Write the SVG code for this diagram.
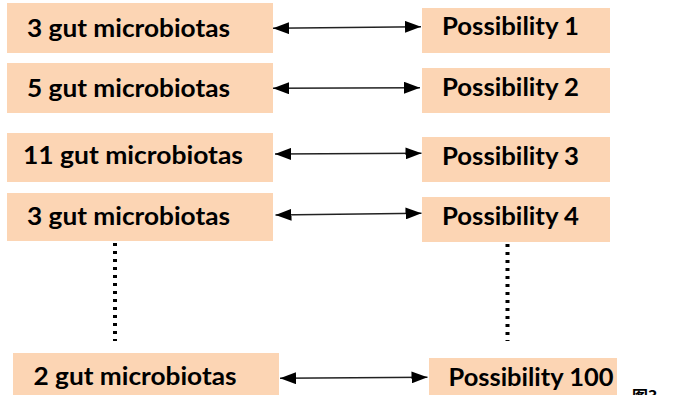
<svg xmlns="http://www.w3.org/2000/svg" width="691" height="395" viewBox="0 0 691 395">
<defs>
<style>
.box{fill:#FCD5B4;}
.t{font-family:Lato,"Open Sans","Liberation Sans",sans-serif;font-weight:bold;font-size:25px;fill:#000;}
.c{stroke:#222;stroke-width:1.5;fill:none;}
.d{stroke:#000;stroke-width:4;stroke-dasharray:3 5;fill:none;}
.cap{font-family:"Noto Sans CJK SC",sans-serif;font-weight:bold;font-size:16px;fill:#000;}
</style>
<marker id="ah" viewBox="0 0 16 12" refX="16" refY="6" markerWidth="16" markerHeight="12" markerUnits="userSpaceOnUse" orient="auto-start-reverse">
<path d="M0,0 L16,6 L0,12 z" fill="#000"/>
</marker>
</defs>
<rect width="691" height="395" fill="#fff"/>
<g id="left1"><rect class="box" x="7" y="3" width="266" height="50"/><text class="t" x="27" y="37" textLength="203" lengthAdjust="spacingAndGlyphs">3 gut microbiotas</text></g>
<g id="left2"><rect class="box" x="7" y="63" width="266" height="50"/><text class="t" x="27" y="97" textLength="203" lengthAdjust="spacingAndGlyphs">5 gut microbiotas</text></g>
<g id="left3"><rect class="box" x="7" y="133" width="266" height="49"/><text class="t" x="23" y="163.5" textLength="220" lengthAdjust="spacingAndGlyphs">11 gut microbiotas</text></g>
<g id="left4"><rect class="box" x="7" y="193" width="266" height="48"/><text class="t" x="27" y="224.5" textLength="203" lengthAdjust="spacingAndGlyphs">3 gut microbiotas</text></g>
<g id="left5"><rect class="box" x="13" y="353" width="266" height="45"/><text class="t" x="33.5" y="385" textLength="203" lengthAdjust="spacingAndGlyphs">2 gut microbiotas</text></g>
<g id="right1"><rect class="box" x="422" y="8" width="188" height="45"/><text class="t" x="442" y="35" textLength="137" lengthAdjust="spacingAndGlyphs">Possibility 1</text></g>
<g id="right2"><rect class="box" x="422" y="68" width="188" height="45"/><text class="t" x="442" y="96" textLength="137" lengthAdjust="spacingAndGlyphs">Possibility 2</text></g>
<g id="right3"><rect class="box" x="422" y="137" width="188" height="45"/><text class="t" x="442" y="164.5" textLength="137" lengthAdjust="spacingAndGlyphs">Possibility 3</text></g>
<g id="right4"><rect class="box" x="422" y="197" width="188" height="45"/><text class="t" x="442" y="225" textLength="137" lengthAdjust="spacingAndGlyphs">Possibility 4</text></g>
<g id="right5"><rect class="box" x="429" y="358" width="188" height="40"/><text class="t" x="448.5" y="386" textLength="165" lengthAdjust="spacingAndGlyphs">Possibility 100</text></g>
<g id="connectors">
<line class="c" x1="273" y1="28.3" x2="421" y2="26.7" marker-start="url(#ah)" marker-end="url(#ah)"/>
<line class="c" x1="273" y1="88.3" x2="420" y2="87.7" marker-start="url(#ah)" marker-end="url(#ah)"/>
<line class="c" x1="275" y1="154" x2="421.5" y2="153.3" marker-start="url(#ah)" marker-end="url(#ah)"/>
<line class="c" x1="275.5" y1="215" x2="421.5" y2="213.3" marker-start="url(#ah)" marker-end="url(#ah)"/>
<line class="c" x1="280" y1="378.3" x2="427.5" y2="377.3" marker-start="url(#ah)" marker-end="url(#ah)"/>
<line class="d" x1="115" y1="243" x2="115" y2="341"/>
<line class="d" x1="507.5" y1="244" x2="507.5" y2="341"/>
</g>
<text class="cap" x="632" y="402">图3</text>
</svg>
